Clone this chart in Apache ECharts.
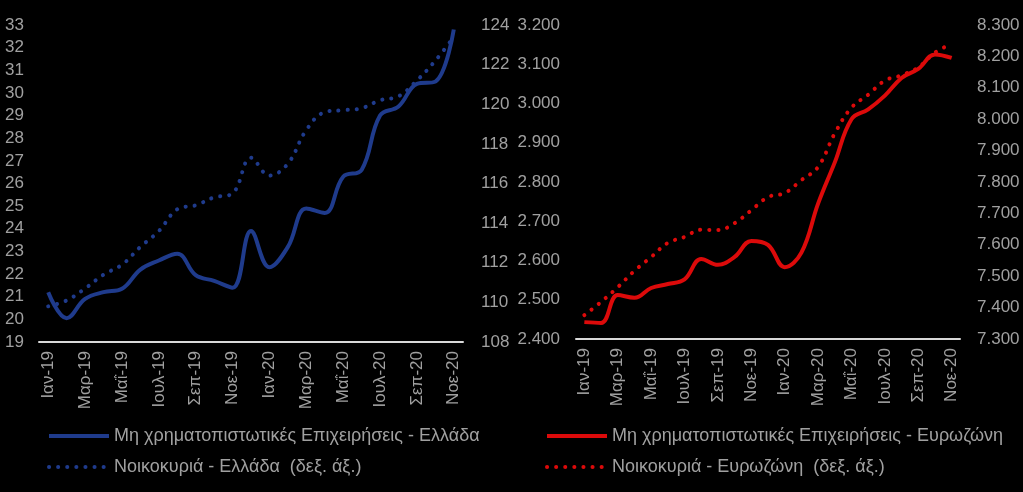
<!DOCTYPE html>
<html>
<head>
<meta charset="utf-8">
<script src="https://cdn.jsdelivr.net/npm/echarts@6/dist/echarts.min.js"></script>
<style>
html,body{margin:0;padding:0;background:#000;}
#c{width:1023px;height:492px;}
</style>
</head>
<body>
<div id="c"></div>
<script>
const months = ['Ιαν-19','Φεβ-19','Μαρ-19','Απρ-19','Μαΐ-19','Ιουν-19','Ιουλ-19','Αυγ-19','Σεπ-19','Οκτ-19','Νοε-19','Δεκ-19',
                'Ιαν-20','Φεβ-20','Μαρ-20','Απρ-20','Μαΐ-20','Ιουν-20','Ιουλ-20','Αυγ-20','Σεπ-20','Οκτ-20','Νοε-20'];

const nameGrNfc = 'Μη χρηματοπιστωτικές Επιχειρήσεις - Ελλάδα';
const nameGrHh  = 'Νοικοκυριά - Ελλάδα  (δεξ. άξ.)';
const nameEzNfc = 'Μη χρηματοπιστωτικές Επιχειρήσεις - Ευρωζώνη';
const nameEzHh  = 'Νοικοκυριά - Ευρωζώνη  (δεξ. άξ.)';

// Greece (EUR bn)
const greeceNfc = [21.2, 20.05, 20.9, 21.2, 21.35, 22.2, 22.6, 22.9, 21.95, 21.7, 21.4, 23.9,
                   22.3, 23.2, 24.9, 24.7, 26.3, 26.6, 29.0, 29.4, 30.4, 30.5, 32.8];
const greeceHh  = [109.8, 110.1, 110.7, 111.4, 111.9, 112.8, 113.6, 114.7, 114.9, 115.3, 115.5, 117.3,
                   116.4, 117.0, 118.7, 119.6, 119.7, 119.8, 120.2, 120.4, 121.2, 122.2, 123.4];
// Eurozone (EUR bn)
const euroNfc = [2443, 2441, 2512, 2505, 2530, 2540, 2552, 2604, 2589, 2609, 2650, 2640,
                 2583, 2620, 2745, 2850, 2960, 2985, 3020, 3065, 3088, 3125, 3116];
const euroHh  = [7376, 7418, 7465, 7517, 7561, 7606, 7625, 7648, 7647, 7669, 7710, 7752,
                 7765, 7806, 7848, 7955, 8037, 8078, 8123, 8140, 8165, 8212, 8240];

const blue = '#1f3b8c';
const red = '#dc0a0a';
const grey = '#a0a0a0';
const font = "'Liberation Sans', Arial, sans-serif";

function thou(v){ return Math.floor(v/1000) + '.' + String(v % 1000).padStart(3,'0'); }

const yBase = {
  type: 'value',
  splitLine: {show:false},
  axisTick: {show:false},
  axisLine: {show:false},
  axisLabel: {color: grey, fontSize: 17, fontFamily: font}
};
function yAx(grid, pos, min, max, interval, margin, fmt){
  return Object.assign({}, yBase, {
    gridIndex: grid, position: pos, min: min, max: max, interval: interval,
    axisLabel: Object.assign({}, yBase.axisLabel, {margin: margin, formatter: fmt})
  });
}
function xAx(grid){
  return {
    type: 'category', gridIndex: grid, data: months, boundaryGap: true,
    axisLine: {show: true, lineStyle: {color: '#d9d9d9', width: 2}},
    axisTick: {show: false},
    axisLabel: {color: grey, fontSize: 17, fontFamily: font, rotate: 90, interval: 1, margin: 9}
  };
}
const dotted = (c) => ({color: c, width: 4, type: [0.1, 9], cap: 'round'});
const solid = (c) => ({color: c, width: 4});

const legendBase = {
  orient: 'vertical', top: 422, itemWidth: 60, itemHeight: 14, itemGap: 13,
  itemStyle: {color: 'rgba(0,0,0,0)', borderColor: 'rgba(0,0,0,0)', borderWidth: 0},
  lineStyle: {width: 4},
  textStyle: {color: grey, fontSize: 18, fontFamily: font}
};

const option = {
  backgroundColor: '#000',
  animation: false,
  grid: [
    {left: 39, right: 560, top: 25, bottom: 150},
    {left: 576, right: 63, top: 25, bottom: 153}
  ],
  xAxis: [xAx(0), xAx(1)],
  yAxis: [
    yAx(0, 'left', 19, 33, 1, 15),
    yAx(0, 'right', 108, 124, 2, 18),
    yAx(1, 'left', 2400, 3200, 100, 16, thou),
    yAx(1, 'right', 7300, 8300, 100, 17, thou)
  ],
  legend: [
    Object.assign({}, legendBase, {left: 42, data: [nameGrNfc, nameGrHh]}),
    Object.assign({}, legendBase, {left: 540, data: [nameEzNfc, nameEzHh]})
  ],
  series: [
    {name: nameGrNfc, type: 'line', xAxisIndex: 0, yAxisIndex: 0, data: greeceNfc, smooth: 0.4,
     symbol: 'none', color: blue, lineStyle: solid(blue), z: 3},
    {name: nameGrHh, type: 'line', xAxisIndex: 0, yAxisIndex: 1, data: greeceHh, smooth: 0.4,
     symbol: 'none', color: blue, lineStyle: dotted(blue), z: 2},
    {name: nameEzNfc, type: 'line', xAxisIndex: 1, yAxisIndex: 2, data: euroNfc, smooth: 0.4,
     symbol: 'none', color: red, lineStyle: solid(red), z: 3},
    {name: nameEzHh, type: 'line', xAxisIndex: 1, yAxisIndex: 3, data: euroHh, smooth: 0.4,
     symbol: 'none', color: red, lineStyle: dotted(red), z: 2}
  ]
};
const chart = echarts.init(document.getElementById('c'), null, {renderer: 'canvas'});
chart.setOption(option);
</script>
</body>
</html>
